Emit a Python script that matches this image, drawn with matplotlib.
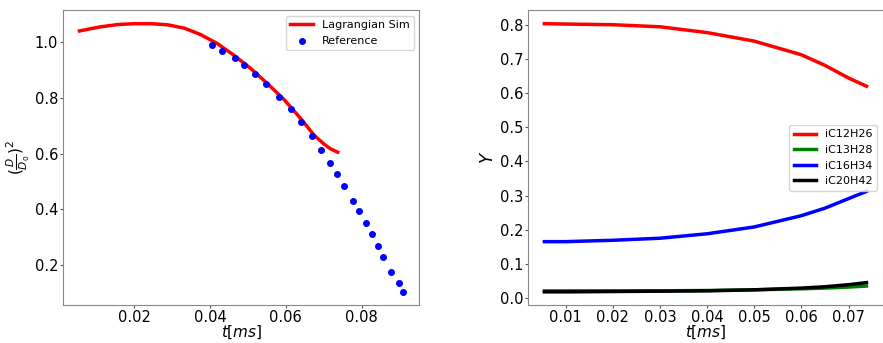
import matplotlib
matplotlib.use('Agg')
import matplotlib.pyplot as plt

# droplet size history (simulation vs reference)
t_sim = [0.0055, 0.0080, 0.0112, 0.0156, 0.0200, 0.0244, 0.0288, 0.0332,
         0.0375, 0.0419, 0.0463, 0.0507, 0.0551, 0.0595, 0.0639, 0.0674,
         0.0700, 0.0718, 0.0737]
d2_sim = [1.039, 1.046, 1.054, 1.062, 1.065, 1.065, 1.061, 1.049,
          1.026, 0.994, 0.952, 0.905, 0.851, 0.794, 0.726, 0.667,
          0.635, 0.617, 0.605]

t_ref = [0.0404, 0.0432, 0.0465, 0.0489, 0.0518, 0.0549, 0.0582, 0.0613,
         0.0639, 0.0668, 0.0694, 0.0717, 0.0736, 0.0755, 0.0778, 0.0794,
         0.0811, 0.0827, 0.0843, 0.0858, 0.0878, 0.0899, 0.0910]
d2_ref = [0.987, 0.967, 0.942, 0.918, 0.886, 0.848, 0.802, 0.758, 0.714,
          0.662, 0.613, 0.565, 0.527, 0.485, 0.430, 0.394, 0.351, 0.311,
          0.269, 0.229, 0.176, 0.138, 0.105]

# species mass fractions
t_y = [0.0055, 0.010, 0.020, 0.030, 0.040, 0.050, 0.060, 0.065, 0.070, 0.0738]
y_c12 = [0.803, 0.802, 0.800, 0.794, 0.777, 0.752, 0.712, 0.681, 0.644, 0.620]
y_c13 = [0.021, 0.021, 0.021, 0.021, 0.022, 0.024, 0.027, 0.029, 0.032, 0.035]
y_c16 = [0.165, 0.165, 0.169, 0.175, 0.188, 0.208, 0.241, 0.263, 0.291, 0.312]
y_c20 = [0.018, 0.018, 0.019, 0.020, 0.021, 0.024, 0.029, 0.033, 0.039, 0.045]

species = ['iC12H26', 'iC13H28', 'iC16H34', 'iC20H42']
colors = ['red', 'green', 'blue', 'black']

plt.rcParams['font.size'] = 10.5
plt.rcParams['xtick.major.size'] = 2.2
plt.rcParams['ytick.major.size'] = 2.2
plt.rcParams['xtick.major.pad'] = 1.5
plt.rcParams['ytick.major.pad'] = 1.5
plt.rcParams['xtick.color'] = '#555555'
plt.rcParams['ytick.color'] = '#555555'
plt.rcParams['xtick.labelcolor'] = 'black'
plt.rcParams['ytick.labelcolor'] = 'black'

fig = plt.figure(figsize=(8.83, 3.43), dpi=100)
ax1 = fig.add_axes([0.0717, 0.110, 0.4032, 0.860])
ax2 = fig.add_axes([0.5983, 0.110, 0.4012, 0.860])

ax1.plot(t_sim, d2_sim, color='red', lw=2.5, label='Lagrangian Sim')
ax1.scatter(t_ref, d2_ref, color='blue', s=16, label='Reference', zorder=3)
ax1.set_xlabel(r'$t[ms]$', fontsize=11, labelpad=-1)
ax1.set_ylabel(r'$(\frac{D}{D_0})^2$', fontsize=11, labelpad=2)
ax1.set_xticks([0.02, 0.04, 0.06, 0.08])
ax1.set_yticks([0.2, 0.4, 0.6, 0.8, 1.0])
ax1.legend(loc='upper right', fontsize=8)

for vals, name, c in zip([y_c12, y_c13, y_c16, y_c20], species, colors):
    ax2.plot(t_y, vals, color=c, lw=2.5, label=name)
ax2.set_xlabel(r'$t[ms]$', fontsize=11, labelpad=-1)
ax2.set_ylabel(r'$Y$', fontsize=12, labelpad=2)
ax2.legend(loc='center right', fontsize=8)

for ax in (ax1, ax2):
    for sp in ax.spines.values():
        sp.set_color('#888888')

fig.savefig('out.png', dpi=100)
